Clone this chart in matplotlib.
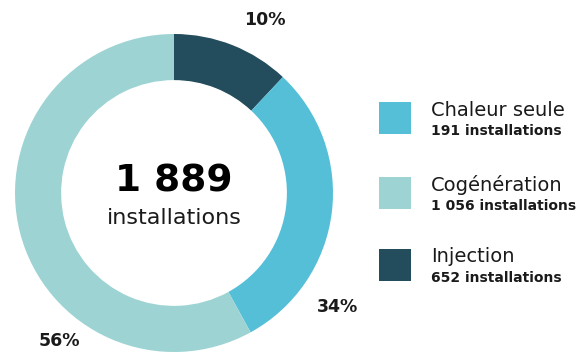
import matplotlib
matplotlib.use("Agg")
import matplotlib.pyplot as plt
from matplotlib.patches import Rectangle

# slice shares as drawn in the picture (clockwise from 12 o'clock)
slice_share = [12, 30, 58]
slice_colors = ["#234c5c", "#55bfd8", "#9dd4d3"]
pct_labels = ["10%", "34%", "56%"]
pct_pos = [(0.57, 1.09), (1.03, -0.72), (-0.72, -0.93)]

legend_names = ["Chaleur seule", "Cogénération", "Injection"]
legend_counts = ["191 installations", "1 056 installations", "652 installations"]
legend_colors = ["#55bfd8", "#9dd4d3", "#234c5c"]

total = "1 889"
total_unit = "installations"

plt.rcParams['font.family'] = ['DejaVu Sans']

W, H = 587, 354
fig = plt.figure(figsize=(W / 100, H / 100), dpi=100)
cx, cy, R = 174, 193, 159
ax = fig.add_axes([(cx - R) / W, (H - cy - R) / H, 2 * R / W, 2 * R / H])
ax.pie(slice_share, colors=slice_colors, startangle=90, counterclock=False,
       radius=1, wedgeprops=dict(width=0.29, linewidth=0))
ax.set_xlim(-1, 1)
ax.set_ylim(-1, 1)
ax.set_aspect('equal')
ax.axis('off')

for lab, (x, y) in zip(pct_labels, pct_pos):
    ax.text(x, y, lab, ha='center', va='center', fontsize=12.5, fontweight='bold',
            color='#1a1a1a', clip_on=False)

ax.text(0, 0.075, total, ha='center', va='center', fontsize=27, fontweight='bold', color='black')
ax.text(0, -0.155, total_unit, ha='center', va='center', fontsize=16, color='#1a1a1a')

# legend, drawn by hand
tops = [102, 177, 249]
for name, cnt, col, top in zip(legend_names, legend_counts, legend_colors, tops):
    fig.add_artist(Rectangle((379 / W, (H - top - 32) / H), 32 / W, 32 / H,
                             transform=fig.transFigure, color=col, lw=0))
    fig.text(431 / W, (H - top - 8) / H, name, ha='left', va='center',
             fontsize=14, color='#1a1a1a')
    fig.text(431 / W, (H - top - 29) / H, cnt, ha='left', va='center',
             fontsize=10, fontweight='bold', color='#1a1a1a')

fig.savefig("out.png", dpi=100)
